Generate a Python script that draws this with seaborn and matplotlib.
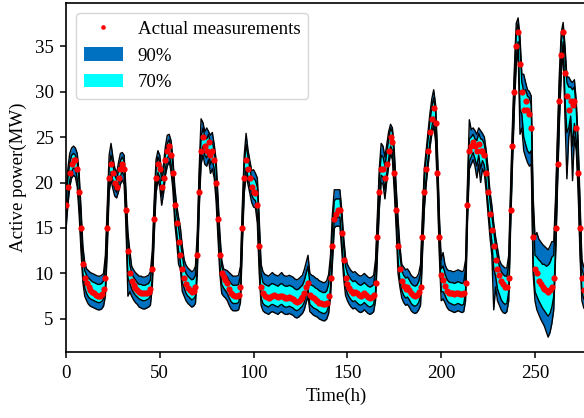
import numpy as np
import pandas as pd
import matplotlib
matplotlib.use("Agg")
import matplotlib.pyplot as plt
import seaborn as sns
from matplotlib.patches import Patch
from matplotlib.lines import Line2D

# ---------------- data (hourly) ----------------
hours = list(range(280))

actual = [
    17.5, 19.5, 21.0, 22.0, 22.5, 22.5, 21.5, 19.0, 15.0, 11.0, 9.5, 9.0, 8.5, 8.2, 8.0, 7.8, 7.6, 7.5, 7.5, 7.7,
    8.3, 9.5, 15.0, 20.5, 22.0, 21.0, 20.0, 19.5, 20.5, 21.5, 22.0, 21.5, 17.0, 12.5, 10.0, 9.2, 8.7, 8.4, 8.2, 8.0,
    7.9, 7.8, 7.8, 7.9, 8.0, 8.3, 10.5, 16.0, 20.5, 22.0, 21.5, 19.5, 20.5, 22.5, 23.5, 24.0, 23.0, 21.0, 17.5, 15.5,
    13.5, 12.0, 10.5, 9.5, 8.8, 8.4, 8.2, 8.0, 8.1, 8.5, 12.0, 19.0, 23.5, 25.0, 24.0, 23.5, 24.5, 23.0, 23.5, 22.5,
    20.0, 16.0, 12.0, 10.0, 9.6, 9.3, 9.0, 8.3, 7.8, 7.6, 7.5, 7.5, 7.6, 8.5, 15.0, 20.5, 22.5, 21.5, 20.5, 19.5,
    19.0, 18.8, 17.5, 13.0, 8.5, 7.8, 7.5, 7.4, 7.3, 7.4, 7.5, 7.6, 7.5, 7.4, 7.5, 7.5, 7.4, 7.3, 7.3, 7.4,
    7.3, 7.2, 7.0, 6.9, 7.0, 7.2, 7.4, 7.8, 8.5, 9.0, 7.6, 7.4, 7.3, 7.1, 7.0, 6.8, 6.7, 6.6, 6.6, 6.8,
    7.5, 9.5, 13.0, 16.0, 16.5, 17.0, 17.0, 14.5, 11.5, 9.5, 8.8, 8.4, 8.1, 7.9, 8.0, 7.8, 7.6, 7.5, 7.6, 7.8,
    7.6, 7.4, 7.3, 7.4, 7.6, 9.0, 14.0, 19.0, 21.5, 21.5, 20.5, 22.0, 23.5, 25.0, 24.5, 21.0, 17.0, 13.0, 10.5, 9.2,
    8.6, 8.3, 8.5, 8.2, 7.8, 7.6, 7.5, 7.6, 8.0, 8.5, 14.0, 19.0, 21.5, 23.5, 25.5, 27.0, 28.2, 26.5, 21.0, 14.0,
    9.8, 9.3, 8.6, 8.1, 7.9, 7.8, 7.8, 7.7, 7.8, 7.8, 7.7, 7.7, 7.8, 9.0, 17.5, 23.5, 24.0, 24.5, 24.0, 23.5,
    24.2, 23.5, 23.5, 23.0, 21.0, 19.0, 16.5, 14.8, 13.0, 11.5, 10.5, 9.8, 9.2, 8.8, 8.5, 8.5, 9.5, 17.0, 24.0, 30.0,
    35.0, 36.5, 33.0, 30.0, 28.0, 29.0, 28.0, 27.5, 26.0, 14.0, 10.5, 10.0, 9.2, 8.8, 8.5, 8.3, 8.2, 8.0, 8.2, 8.5,
    9.5, 15.0, 22.0, 29.0, 34.0, 36.5, 32.0, 29.5, 28.0, 29.0, 28.5, 29.0, 26.0, 21.0, 15.0, 9.5, 8.2, 8.0, 8.0, 8.0,
]

lower90 = [
    14.8, 17.5, 19.5, 20.5, 20.8, 20.6, 19.5, 16.5, 12.5, 9.0, 7.5, 7.0, 6.6, 6.4, 6.3, 6.2, 6.1, 6.0, 6.0, 6.1,
    6.4, 7.5, 12.5, 19.0, 20.3, 19.3, 18.5, 18.3, 19.0, 19.8, 20.3, 19.8, 15.0, 7.5, 8.0, 7.5, 7.1, 6.8, 6.6, 6.3,
    6.2, 6.1, 6.1, 6.2, 6.3, 6.5, 8.5, 14.0, 18.8, 20.3, 19.5, 17.5, 18.8, 20.8, 21.8, 22.3, 21.2, 19.2, 15.5, 13.5,
    11.0, 10.5, 8.0, 7.5, 7.0, 6.7, 6.5, 6.3, 6.4, 6.7, 10.0, 17.0, 22.0, 23.0, 22.0, 21.8, 22.5, 21.0, 21.5, 20.5,
    18.0, 14.0, 10.0, 7.8, 7.5, 7.3, 7.0, 6.5, 6.1, 5.9, 5.9, 5.9, 6.0, 6.8, 13.0, 18.8, 20.8, 19.8, 18.8, 17.8,
    17.3, 17.2, 15.5, 10.0, 6.5, 5.9, 5.7, 5.6, 5.5, 5.7, 5.8, 5.7, 5.6, 5.5, 5.7, 5.8, 5.6, 5.5, 5.5, 5.6,
    5.5, 5.4, 5.2, 5.1, 5.2, 5.4, 5.6, 6.0, 6.8, 7.5, 5.8, 5.6, 5.4, 5.3, 5.2, 5.0, 4.9, 4.8, 4.8, 5.0,
    5.6, 7.5, 11.0, 15.0, 15.2, 15.2, 15.2, 12.5, 9.5, 7.6, 7.0, 6.6, 6.3, 6.1, 6.2, 6.0, 5.8, 5.7, 5.8, 6.0,
    5.8, 5.6, 5.5, 5.6, 5.8, 7.0, 12.0, 17.0, 20.0, 19.8, 18.2, 20.2, 21.8, 23.2, 22.5, 19.0, 15.0, 10.0, 8.5, 7.3,
    6.8, 6.5, 6.6, 6.3, 5.9, 5.7, 5.6, 5.7, 6.0, 6.5, 12.0, 17.0, 19.8, 21.8, 23.8, 25.3, 26.3, 24.5, 19.0, 12.0,
    7.0, 7.2, 6.8, 6.3, 6.0, 5.9, 5.8, 5.7, 5.8, 5.9, 5.8, 5.7, 5.8, 7.0, 15.5, 21.5, 22.0, 22.5, 21.8, 20.5,
    22.0, 20.0, 21.5, 21.0, 19.0, 16.5, 14.0, 12.0, 6.0, 8.5, 7.0, 6.5, 6.0, 5.7, 5.6, 5.8, 7.0, 15.0, 22.0, 28.0,
    33.0, 34.5, 25.3, 26.0, 23.5, 22.8, 22.2, 21.8, 22.0, 10.0, 7.0, 6.0, 5.5, 5.0, 4.6, 4.2, 3.6, 3.0, 3.5, 4.5,
    6.0, 12.0, 19.5, 26.5, 32.0, 34.5, 27.0, 20.4, 25.0, 26.5, 20.2, 25.0, 23.5, 19.0, 12.0, 7.0, 6.2, 6.0, 5.9, 5.9,
]

lower70 = [
    15.6, 18.3, 20.2, 21.2, 21.6, 21.5, 20.4, 17.5, 13.5, 10.0, 8.4, 7.8, 7.4, 7.2, 7.1, 7.0, 6.9, 6.8, 6.8, 6.9,
    7.2, 8.5, 13.8, 19.8, 21.2, 20.2, 19.3, 18.9, 19.8, 20.7, 21.2, 20.7, 16.0, 9.5, 9.0, 8.3, 7.9, 7.6, 7.4, 7.2,
    7.1, 7.0, 7.0, 7.1, 7.2, 7.5, 9.5, 15.0, 19.6, 21.1, 20.5, 18.5, 19.6, 21.6, 22.6, 23.1, 22.0, 20.0, 16.5, 14.5,
    12.5, 11.2, 9.0, 8.4, 7.8, 7.5, 7.3, 7.1, 7.2, 7.5, 11.0, 18.0, 22.8, 24.0, 23.0, 22.7, 23.5, 22.0, 22.5, 21.5,
    19.0, 15.0, 11.0, 8.8, 8.4, 8.1, 7.8, 7.3, 6.9, 6.7, 6.7, 6.7, 6.8, 7.7, 14.0, 19.6, 21.6, 20.6, 19.6, 18.6,
    18.2, 18.0, 16.5, 11.5, 7.3, 6.7, 6.5, 6.4, 6.3, 6.5, 6.6, 6.5, 6.4, 6.3, 6.5, 6.6, 6.4, 6.3, 6.3, 6.4,
    6.3, 6.2, 6.0, 5.9, 6.0, 6.2, 6.4, 6.8, 7.6, 8.2, 6.6, 6.4, 6.2, 6.1, 6.0, 5.8, 5.7, 5.6, 5.6, 5.8,
    6.4, 8.5, 12.0, 15.8, 16.0, 16.2, 16.2, 13.5, 10.5, 8.5, 7.8, 7.4, 7.1, 6.9, 7.0, 6.8, 6.6, 6.5, 6.6, 6.8,
    6.6, 6.4, 6.3, 6.4, 6.6, 8.0, 13.0, 18.0, 20.8, 20.6, 19.2, 21.0, 22.6, 24.0, 23.5, 20.0, 16.0, 11.5, 9.2, 8.1,
    7.6, 7.3, 7.4, 7.1, 6.7, 6.5, 6.4, 6.5, 6.8, 7.5, 13.0, 18.0, 20.6, 22.6, 24.6, 26.1, 27.2, 25.5, 20.0, 13.0,
    8.0, 8.0, 7.6, 7.1, 6.8, 6.7, 6.6, 6.5, 6.6, 6.7, 6.6, 6.5, 6.6, 8.0, 16.5, 22.3, 22.8, 23.3, 22.6, 21.8,
    23.0, 21.5, 22.4, 21.9, 20.0, 17.5, 15.2, 13.5, 10.5, 9.7, 8.3, 7.7, 7.1, 6.8, 6.6, 6.7, 8.0, 16.0, 23.0, 29.0,
    34.0, 35.5, 28.0, 27.5, 25.0, 24.2, 23.5, 23.2, 23.5, 11.0, 8.0, 7.5, 7.0, 6.6, 6.2, 5.9, 5.6, 5.3, 5.6, 6.3,
    7.5, 13.0, 20.5, 27.5, 33.0, 35.5, 29.0, 25.5, 26.0, 27.3, 24.0, 26.5, 24.5, 20.0, 13.0, 8.0, 7.2, 7.0, 6.9, 6.9,
]

upper70 = [
    17.5, 20.5, 22.2, 23.0, 23.2, 23.0, 22.3, 20.0, 16.2, 12.0, 10.3, 9.8, 9.5, 9.3, 9.1, 9.0, 8.9, 8.8, 8.8, 8.9,
    9.2, 11.0, 16.5, 21.8, 23.0, 22.0, 20.8, 20.3, 21.3, 22.4, 22.8, 22.3, 18.0, 13.5, 11.0, 10.0, 9.6, 9.3, 9.0, 8.8,
    8.8, 8.7, 8.7, 8.8, 8.9, 9.3, 11.5, 17.0, 21.5, 22.8, 22.2, 20.2, 21.3, 23.2, 24.3, 24.7, 23.8, 21.8, 18.5, 16.5,
    15.0, 13.5, 12.0, 10.6, 10.0, 9.7, 9.5, 9.3, 9.4, 9.8, 13.5, 20.5, 25.0, 26.0, 25.0, 24.8, 25.3, 24.2, 24.5, 23.5,
    21.5, 17.5, 13.5, 10.8, 10.0, 9.8, 9.6, 9.2, 8.9, 8.7, 8.7, 8.7, 8.8, 9.8, 16.5, 22.0, 24.2, 22.8, 21.6, 20.4,
    20.5, 20.2, 19.5, 15.0, 10.0, 9.0, 8.8, 8.7, 8.6, 8.8, 8.9, 8.8, 8.7, 8.6, 8.8, 8.9, 8.7, 8.6, 8.6, 8.7,
    8.6, 8.5, 8.3, 8.2, 8.3, 8.5, 8.7, 9.2, 10.0, 10.8, 8.9, 8.7, 8.6, 8.4, 8.3, 8.1, 8.0, 7.9, 7.9, 8.1,
    8.8, 11.0, 15.0, 18.0, 18.2, 18.2, 18.2, 16.0, 13.0, 10.8, 10.0, 9.6, 9.3, 9.1, 9.2, 9.0, 8.8, 8.7, 8.8, 9.0,
    8.8, 8.6, 8.5, 8.6, 8.8, 10.5, 15.5, 20.5, 23.0, 22.8, 21.8, 23.3, 24.8, 26.0, 25.5, 22.5, 18.5, 14.5, 12.0, 10.3,
    9.8, 9.5, 9.6, 9.3, 8.9, 8.7, 8.6, 8.7, 9.1, 10.0, 15.5, 20.5, 22.8, 24.8, 26.8, 28.3, 29.3, 27.8, 22.5, 15.5,
    10.5, 10.8, 10.0, 9.4, 9.1, 9.0, 9.0, 8.9, 9.0, 9.1, 9.0, 8.9, 9.0, 10.5, 19.0, 24.8, 25.0, 25.3, 24.8, 24.6,
    25.4, 24.8, 24.7, 24.2, 22.5, 20.5, 18.0, 16.3, 14.5, 13.0, 11.8, 10.8, 10.2, 9.9, 9.7, 9.7, 11.0, 18.5, 25.5, 31.5,
    36.5, 37.5, 35.0, 31.0, 30.0, 30.2, 29.5, 29.3, 28.5, 17.0, 12.0, 11.8, 11.5, 11.3, 11.0, 11.0, 10.8, 10.9, 11.2, 11.8,
    12.0, 17.5, 24.5, 31.0, 35.5, 37.0, 34.0, 31.0, 30.5, 30.5, 30.2, 30.5, 28.0, 23.5, 17.0, 10.5, 9.7, 9.5, 9.4, 9.4,
]

upper90 = [
    18.5, 21.5, 23.2, 23.8, 24.0, 23.8, 23.2, 21.0, 17.2, 13.0, 11.2, 10.5, 10.3, 10.1, 10.0, 9.9, 9.8, 9.7, 9.7, 9.8,
    10.0, 12.0, 17.5, 23.0, 24.3, 22.8, 21.6, 21.0, 22.2, 23.2, 23.3, 23.0, 19.0, 14.5, 12.5, 10.8, 10.4, 10.1, 9.9, 9.7,
    9.7, 9.6, 9.6, 9.7, 9.8, 10.2, 12.5, 18.0, 22.5, 23.5, 23.0, 21.0, 22.0, 24.0, 25.2, 25.3, 24.6, 22.6, 19.5, 17.5,
    16.2, 15.0, 13.0, 11.5, 10.9, 10.6, 10.4, 10.2, 10.3, 10.8, 14.5, 21.5, 27.0, 26.6, 25.6, 26.0, 25.6, 25.2, 25.5, 24.2,
    22.5, 18.5, 14.5, 11.5, 10.5, 10.4, 10.3, 10.1, 9.9, 9.7, 9.7, 9.7, 9.8, 10.8, 17.5, 23.0, 25.4, 23.6, 22.4, 21.3,
    21.4, 21.0, 20.5, 16.0, 11.0, 10.2, 9.9, 9.8, 9.7, 9.9, 10.1, 9.9, 9.8, 9.7, 9.9, 10.1, 9.8, 9.7, 9.7, 9.8,
    9.7, 9.6, 9.4, 9.3, 9.4, 9.6, 9.8, 10.4, 11.2, 12.0, 10.0, 9.8, 9.7, 9.5, 9.4, 9.2, 9.1, 9.0, 9.0, 9.2,
    9.9, 12.0, 16.5, 19.2, 19.2, 19.2, 19.2, 17.0, 14.0, 11.8, 11.0, 10.6, 10.3, 10.1, 10.2, 10.0, 9.8, 9.7, 9.8, 10.0,
    9.8, 9.6, 9.5, 9.6, 9.8, 11.5, 16.5, 21.5, 24.3, 24.0, 22.8, 24.2, 25.6, 26.4, 26.0, 23.5, 19.5, 16.0, 13.0, 11.0,
    10.7, 10.4, 10.5, 10.2, 9.8, 9.6, 9.5, 9.6, 10.0, 11.0, 16.5, 21.5, 23.6, 25.6, 27.6, 29.2, 30.2, 28.6, 23.5, 16.5,
    11.5, 12.3, 11.0, 10.5, 10.3, 10.3, 10.2, 10.2, 10.3, 10.4, 10.3, 10.2, 10.3, 11.5, 20.0, 26.9, 25.8, 26.0, 25.7, 25.3,
    26.0, 25.7, 25.4, 25.0, 23.5, 21.5, 19.0, 17.5, 15.5, 14.0, 12.8, 11.5, 11.0, 10.8, 10.6, 10.6, 12.0, 19.5, 26.5, 32.5,
    37.5, 38.1, 36.0, 31.9, 31.9, 31.0, 30.2, 30.0, 29.5, 18.5, 14.0, 14.5, 13.8, 13.5, 13.2, 13.0, 12.8, 12.6, 13.0, 13.5,
    13.5, 18.5, 25.5, 32.0, 36.5, 37.6, 35.0, 31.6, 31.6, 31.2, 31.0, 31.3, 29.0, 24.5, 18.0, 11.5, 10.7, 10.5, 10.4, 10.4,
]

x_ticks = [0, 50, 100, 150, 200, 250]
y_ticks = [5, 10, 15, 20, 25, 30, 35]
legend_labels = ["Actual measurements", "90%", "70%"]

# ---------------- style ----------------
sns.set_theme(style="ticks")
plt.rcParams["font.family"] = ["Liberation Serif", "DejaVu Serif"]
plt.rcParams["text.color"] = "black"
plt.rcParams["axes.labelcolor"] = "black"
plt.rcParams["xtick.color"] = "black"
plt.rcParams["ytick.color"] = "black"

BLUE = "#0070C0"
CYAN = "#00FFFF"
RED = "#FF0000"
FS = 13.6

df = pd.DataFrame({
    "t": hours, "actual": actual,
    "lo90": lower90, "lo70": lower70, "hi70": upper70, "hi90": upper90,
})

fig = plt.figure(figsize=(5.84, 4.18), dpi=100)
ax = fig.add_axes([66 / 584, (418 - 352.3) / 418, 288 * 1.876 / 584, 349.6 / 418])

ax.fill_between(df["t"], df["lo90"], df["hi90"], color=BLUE, linewidth=0, zorder=1)
ax.fill_between(df["t"], df["lo70"], df["hi70"], color=CYAN, linewidth=0, zorder=2)
for col in ["lo90", "lo70", "hi70", "hi90"]:
    sns.lineplot(data=df, x="t", y=col, ax=ax, color="black", linewidth=1.0, zorder=3)

sns.scatterplot(data=df, x="t", y="actual", ax=ax, color=RED, s=20, linewidth=0,
                zorder=4, legend=False)

ax.set_xlim(0, 288)
ax.set_ylim(1.33, 39.77)
ax.set_xticks(x_ticks)
ax.set_yticks(y_ticks)
ax.set_xlabel("Time(h)", fontsize=FS, labelpad=4, color="black")
ax.set_ylabel("Active power(MW)", fontsize=FS, labelpad=5, color="black")
ax.tick_params(axis="both", which="major", direction="out", length=4.5, width=1.1,
               labelsize=FS, color="black", labelcolor="black", pad=4.5)
for sp in ax.spines.values():
    sp.set_linewidth(1.2)
    sp.set_color("black")
    sp.set_visible(True)

handles = [
    Line2D([0], [0], marker="o", linestyle="none", color=RED, markersize=3.3, markeredgewidth=0),
    Patch(facecolor=BLUE, edgecolor="none"),
    Patch(facecolor=CYAN, edgecolor="none"),
]
leg = ax.legend(handles, legend_labels, loc="upper left", fontsize=FS, frameon=True,
                fancybox=True, framealpha=0.8, edgecolor="#cccccc",
                bbox_to_anchor=(0.0, 1.0), borderaxespad=0.55, numpoints=1,
                handlelength=2.05, labelcolor="black")
leg.get_frame().set_linewidth(1.0)

fig.savefig("out.png", dpi=100)
